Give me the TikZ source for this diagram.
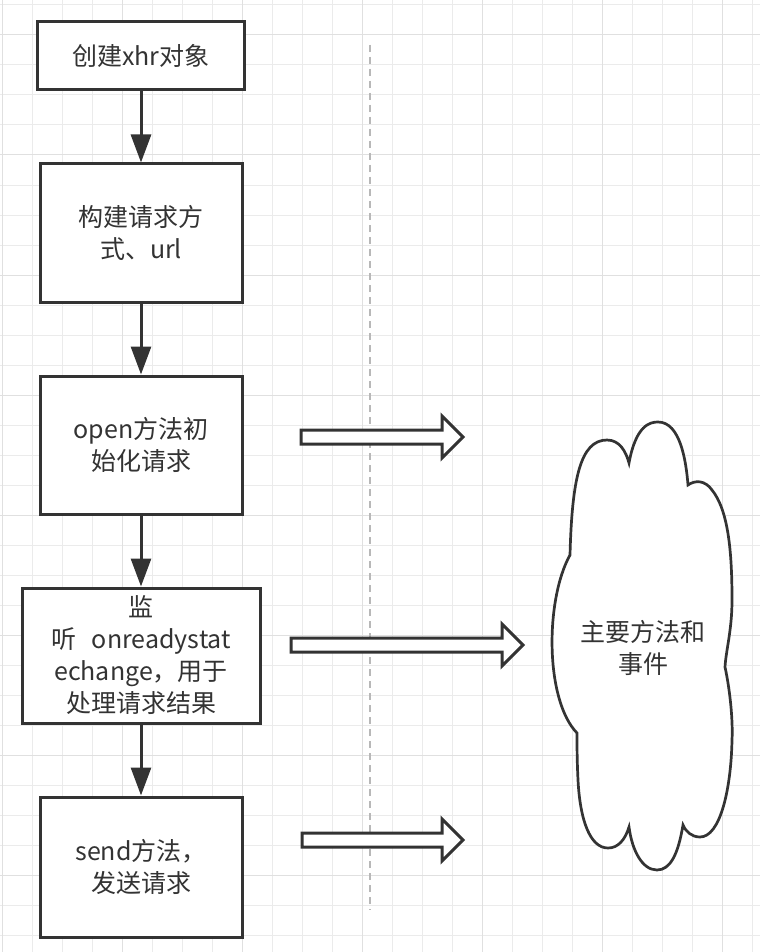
\documentclass[tikz,border=0pt]{standalone}
\usepackage{fontspec}
\newfontfamily\cjkfont{Noto Sans CJK SC}
\usetikzlibrary{arrows.meta,positioning}

\definecolor{darkline}{HTML}{333333}
\definecolor{gridminor}{HTML}{EBEBEB}
\definecolor{gridmajor}{HTML}{E0E0E0}
\definecolor{dashgray}{HTML}{B8B8B8}

\begin{document}
\begin{tikzpicture}[x=1pt,y=-1pt,>={Triangle[length=28pt,width=20pt]},node distance=71pt,
  flow node/.style={rectangle,draw=darkline,line width=3pt,fill=white,minimum width=202pt,
    minimum height=138pt,align=center,text=darkline,font=\cjkfont\fontsize{25}{32}\selectfont},
  flow arrow/.style={draw=darkline,line width=3pt,->},
  block arrow/.style={draw=darkline,line width=3pt,fill=white,line join=miter},
  grid line/.style={draw=gridminor,line width=1pt}]

 \fill[white] (0,0) rectangle (760,952);
 \useasboundingbox (0,0) rectangle (760,952);

 % background grid
 \foreach \gx in {2,32,...,752} \draw[grid line] (\gx,0) -- (\gx,952);
 \foreach \gy in {5,35,...,947} \draw[grid line] (0,\gy) -- (760,\gy);
 \foreach \gx in {2,122,...,722} \draw[grid line,draw=gridmajor] (\gx,0) -- (\gx,952);
 \foreach \gy in {35,155,...,875} \draw[grid line,draw=gridmajor] (0,\gy) -- (760,\gy);

 % dashed separator
 \draw[dashgray,line width=2pt,dash pattern=on 7pt off 5pt] (370,45) -- (370,910);

 \node[flow node,minimum width=207pt,minimum height=68pt] (create) at (141,56) {创建xhr对象};
 \node[flow node] (build) [below=of create] {构建请求方\\式、url};
 \node[flow node] (open) [below=of build] {open方法初\\始化请求};
 \node[flow node,minimum width=238pt,minimum height=135pt] (listen) [below=of open]
   {监\\听\hspace{16pt}onreadystat\\echange，用于\\处理请求结果};
 \node[flow node,minimum height=140pt] (send) [below=of listen] {send方法，\\发送请求};

 \path (create) edge[flow arrow] (build)
       (build)  edge[flow arrow] (open)
       (open)   edge[flow arrow] (listen)
       (listen) edge[flow arrow] (send);

 % hollow arrows
 \foreach \xa/\xb/\yc in {301/463/437, 291/523/645, 302/463/840}
   \draw[block arrow] (\xa,\yc-7) -- (\xb-21,\yc-7) -- (\xb-21,\yc-21) -- (\xb,\yc)
     -- (\xb-21,\yc+21) -- (\xb-21,\yc+7) -- (\xa,\yc+7) -- cycle;

 % cloud
 \draw[darkline,line width=2.7pt,fill=white] (570,555)
   .. controls (572,480) and (580,440) .. (607,440)
   .. controls (620,440) and (626,452) .. (629,463)
   .. controls (636,425) and (650,422) .. (658,422)
   .. controls (680,422) and (686,460) .. (688,485)
   .. controls (695,480) and (705,480) .. (712,490)
   .. controls (728,510) and (732,550) .. (732,600)
   .. controls (732,630) and (726,650) .. (725,667)
   .. controls (730,690) and (733,720) .. (732,740)
   .. controls (731,790) and (720,837) .. (700,837)
   .. controls (692,837) and (686,832) .. (683,825)
   .. controls (678,855) and (670,870) .. (657,870)
   .. controls (642,870) and (632,850) .. (629,827)
   .. controls (625,840) and (618,848) .. (608,848)
   .. controls (590,848) and (580,820) .. (578,780)
   .. controls (577,760) and (577,745) .. (577,733)
   .. controls (545,700) and (545,600) .. cycle;
 \node[align=center,text=darkline,font=\cjkfont\fontsize{25}{32}\selectfont] (methods)
   at (643,648) {主要方法和\\事件};

\end{tikzpicture}
\end{document}
